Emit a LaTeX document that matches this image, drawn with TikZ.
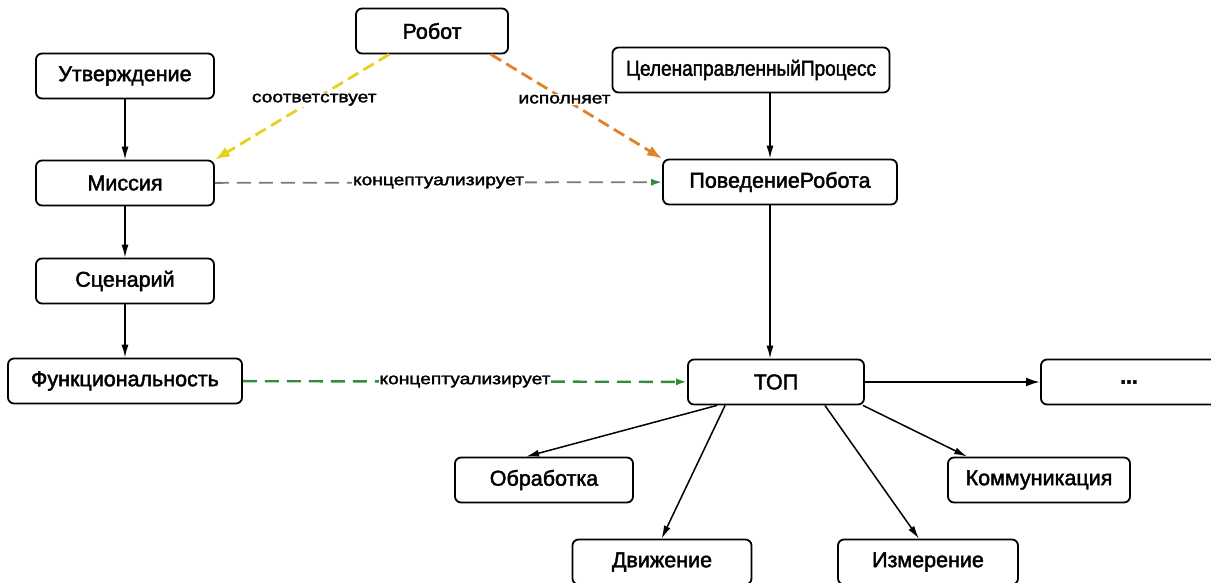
\documentclass[tikz,border=0pt]{standalone}
\usepackage{fontspec}
\usepackage{graphicx}
\setmainfont{Liberation Sans}[FakeBold=2]
\newfontfamily\lblfont{Liberation Sans}[FakeStretch=1.2,FakeBold=2]
\usetikzlibrary{arrows.meta}
\definecolor{ylw}{RGB}{230,210,30}
\definecolor{org}{RGB}{225,130,40}
\definecolor{gry}{RGB}{120,120,120}
\definecolor{grn}{RGB}{50,140,60}
\tikzset{
  box/.style={draw, line width=1.8pt, rounded corners=6pt, minimum height=45pt, inner sep=0pt, font=\fontsize{21.5}{24}\selectfont, text=black},
  edge/.style={line width=1.5pt, -{Latex[length=13pt,width=7pt]}},
  lbl/.style={font=\lblfont\fontsize{16}{18}\selectfont, fill=white, inner sep=1pt},
  dsh/.style={line width=2.8pt, dash pattern=on 12pt off 6pt},
}
\begin{document}
\begin{tikzpicture}[x=1pt,y=-1pt]
\useasboundingbox (0,0) rectangle (1211,583);
\node[box, minimum width=152pt] (rob) at (432,31) {Робот};
\node[box, minimum width=178pt] (utv) at (125,76) {Утверждение};
\node[box, minimum width=277pt] (cel) at (751,70) {\scalebox{0.885}[1]{ЦеленаправленныйПроцесс}};
\node[box, minimum width=178pt] (mis) at (125,183) {Миссия};
\node[box, minimum width=234pt] (beh) at (780,182) {ПоведениеРобота};
\node[box, minimum width=178pt] (scn) at (125,281) {Сценарий};
\node[box, minimum width=234pt] (fun) at (125,381) {Функциональность};
\node[box, minimum width=176pt] (top) at (776,382) {ТОП};
\node[box, minimum width=176pt] (dots) at (1129,382) {\textbf{...}};
\node[box, minimum width=178pt] (obr) at (544,480) {Обработка};
\node[box, minimum width=182pt] (kom) at (1039,480) {Коммуникация};
\node[box, minimum width=179pt] (dvi) at (662,562) {Движение};
\node[box, minimum width=180pt] (izm) at (928,562) {Измерение};

\draw[edge] (utv) -- (mis);
\draw[edge] (mis) -- (scn);
\draw[edge] (scn) -- (fun);
\draw[edge] ([xshift=-10pt]beh.north |- cel.south) -- ([xshift=-10pt]beh.north);
\draw[edge] ([xshift=-10pt]beh.south) -- ([xshift=-10pt]beh.south |- top.north);

\draw[dsh, ylw, -{Latex[length=15pt,width=11pt]}] ([xshift=34pt]rob.south west) -- (mis.north east)
  node[pos=0.43, lbl, text=black] {соответствует};
\draw[dsh, org, -{Latex[length=15pt,width=11pt]}] ([xshift=-18pt]rob.south east) -- (beh.north west)
  node[pos=0.43, lbl, text=black] {исполняет};
\draw[line width=1.8pt, gry, dash pattern=on 14pt off 8pt, -{Latex[length=11pt,width=7pt,color=grn]}] (mis) -- (beh)
  node[pos=0.5, lbl, text=black] {концептуализирует};
\draw[line width=2.4pt, grn, dash pattern=on 14pt off 8pt, -{Latex[length=11pt,width=7pt]}] (fun) -- (top)
  node[pos=0.5, lbl, text=black] {концептуализирует};

\draw[line width=2.4pt, -{Latex[length=14pt,width=9pt]}] (top) -- (dots);
\draw[edge] ([xshift=30pt]top.south west) -- ([xshift=72pt]obr.north west);
\draw[edge] ([xshift=38pt]top.south west) -- ([xshift=90pt]dvi.north west);
\draw[edge] ([xshift=-40pt]top.south east) -- ([xshift=-100pt]izm.north east);
\draw[edge] ([xshift=-2pt]top.south east) -- ([xshift=20pt]kom.north west);
\end{tikzpicture}
\end{document}
